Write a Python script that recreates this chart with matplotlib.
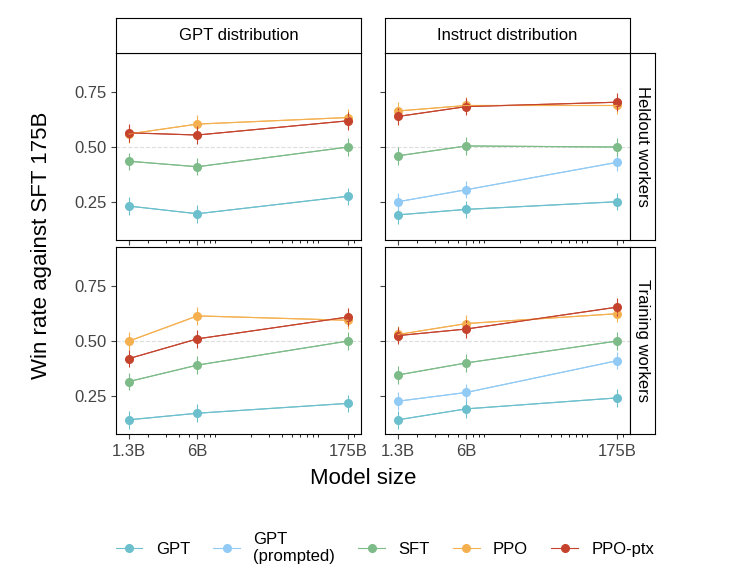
import matplotlib
matplotlib.use("Agg")
import matplotlib.pyplot as plt
import numpy as np

plt.rcParams['font.family'] = ['Liberation Sans', 'DejaVu Sans']

sizes = [1.3, 6, 175]
size_labels = ["1.3B", "6B", "175B"]
series = ["GPT", "GPT\n(prompted)", "SFT", "PPO", "PPO-ptx"]
colors = ["#6cbfcc", "#90caf5", "#7dbb88", "#f4b04f", "#c5432d"]
cols = ["GPT distribution", "Instruct distribution"]
rows = ["Heldout workers", "Training workers"]

gpt_held = {"GPT": [0.23, 0.195, 0.275], "SFT": [0.435, 0.41, 0.5],
            "PPO": [0.56, 0.605, 0.635], "PPO-ptx": [0.565, 0.555, 0.62]}
ins_held = {"GPT": [0.19, 0.215, 0.25], "GPT\n(prompted)": [0.25, 0.305, 0.43],
            "SFT": [0.46, 0.505, 0.5], "PPO": [0.665, 0.69, 0.69],
            "PPO-ptx": [0.64, 0.685, 0.705]}
gpt_train = {"GPT": [0.14, 0.17, 0.215], "SFT": [0.315, 0.39, 0.5],
             "PPO": [0.5, 0.615, 0.595], "PPO-ptx": [0.42, 0.51, 0.61]}
ins_train = {"GPT": [0.14, 0.19, 0.24], "GPT\n(prompted)": [0.225, 0.265, 0.41],
             "SFT": [0.345, 0.4, 0.5], "PPO": [0.53, 0.58, 0.625],
             "PPO-ptx": [0.525, 0.555, 0.655]}
data = [[gpt_held, ins_held], [gpt_train, ins_train]]
err = 0.04

fig = plt.figure(figsize=(7.35, 5.87), dpi=100)
W, H = 735, 587
lefts = [116, 385]
tops = [53, 247]
pw, ph = 245, 187
handles = {}
for r in range(2):
    for c in range(2):
        ax = fig.add_axes([lefts[c]/W, 1-(tops[r]+ph)/H, pw/W, ph/H])
        ax.axhline(0.5, color="#dddddd", lw=0.8, ls="--", zorder=0)
        for name, col in zip(series, colors):
            if name in data[r][c]:
                v = data[r][c][name]
                ax.errorbar(sizes, v, yerr=err, color=col, lw=0.8, elinewidth=0.8, capsize=0)
                h, = ax.plot(sizes, v, 'o', color=col, ms=5.5, ls='-', lw=0.8)
                handles[name] = h
        ax.set_xscale('log')
        ax.set_xlim(0.97, 234)
        ax.set_ylim(0.075, 0.93)
        ax.set_yticks([0.25, 0.5, 0.75])
        ax.tick_params(labelsize=12, colors="#444444", direction='out')
        if c == 0:
            ax.set_yticklabels(["0.25", "0.50", "0.75"])
        else:
            ax.set_yticklabels([])
        ax.set_xticks(sizes)
        if r == 1:
            ax.set_xticklabels(size_labels)
        else:
            ax.set_xticklabels([])
        for s in ax.spines.values():
            s.set_color("black"); s.set_linewidth(0.8)
        if r == 0:
            sax = fig.add_axes([lefts[c]/W, 1-tops[r]/H, pw/W, 35/H])
            sax.set_xticks([]); sax.set_yticks([])
            sax.text(0.5, 0.5, cols[c], ha='center', va='center', fontsize=12, transform=sax.transAxes)
        if c == 1:
            sax = fig.add_axes([(lefts[c]+pw)/W, 1-(tops[r]+ph)/H, 25/W, ph/H])
            sax.set_xticks([]); sax.set_yticks([])
            sax.text(0.5, 0.5, rows[r], ha='center', va='center', fontsize=12,
                     rotation=270, transform=sax.transAxes)

fig.text(42/W, 1-245/H, "Win rate against SFT 175B", rotation=90, ha='center', va='center', fontsize=16)
fig.text(363/W, 1-478/H, "Model size", ha='center', va='center', fontsize=16)
fig.legend([handles[s] for s in series], series, loc='center', bbox_to_anchor=(385/W, 1-548/H),
           ncol=5, frameon=False, fontsize=12, handlelength=1.6, columnspacing=1.4)
fig.savefig("out.png", dpi=100)
